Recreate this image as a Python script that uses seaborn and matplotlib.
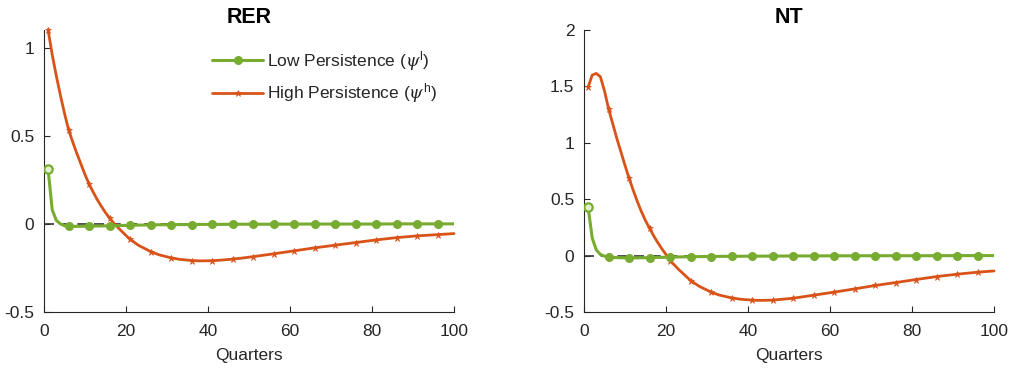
import numpy as np
import pandas as pd
import matplotlib
matplotlib.use("Agg")
import matplotlib.pyplot as plt
import seaborn as sns

# ---- data ----
quarters = [1, 2, 3, 4, 5, 6, 7, 8, 9, 10, 11, 12, 13, 14, 15, 16, 17, 18, 19, 20,
            21, 23, 26, 28, 31, 33, 36, 38, 41, 43, 46, 48, 51, 56, 61, 66, 71, 76,
            81, 86, 91, 96, 100]

rer_low = [0.31, 0.08, 0.02, 0.0, -0.010, -0.013, -0.014, -0.014, -0.014, -0.013,
           -0.013, -0.012, -0.012, -0.012, -0.011, -0.011, -0.010, -0.010, -0.009, -0.009,
           -0.008, -0.007, -0.006, -0.005, -0.005, -0.004, -0.004, -0.003, -0.003, -0.003,
           -0.002, -0.002, -0.002, -0.002, -0.001, -0.001, -0.001, -0.001, -0.001, 0.0,
           0.0, 0.0, 0.0]
rer_high = [1.10, 0.96, 0.84, 0.73, 0.627, 0.534, 0.465, 0.40, 0.34, 0.28,
            0.225, 0.18, 0.137, 0.099, 0.064, 0.032, 0.005, -0.02, -0.043, -0.066,
            -0.087, -0.121, -0.157, -0.175, -0.193, -0.201, -0.208, -0.210, -0.209, -0.206,
            -0.200, -0.195, -0.186, -0.170, -0.153, -0.136, -0.121, -0.106, -0.091, -0.078,
            -0.068, -0.061, -0.055]

nt_low = [0.43, 0.156, 0.05, 0.01, -0.005, -0.012, -0.016, -0.018, -0.019, -0.020,
          -0.020, -0.020, -0.020, -0.019, -0.019, -0.018, -0.017, -0.016, -0.016, -0.015,
          -0.014, -0.012, -0.010, -0.009, -0.008, -0.007, -0.006, -0.006, -0.005, -0.005,
          -0.004, -0.004, -0.003, -0.003, -0.002, -0.002, -0.001, -0.001, -0.001, -0.001,
          0.0, 0.0, 0.0]
nt_high = [1.493, 1.60, 1.615, 1.585, 1.46, 1.30, 1.17, 1.04, 0.92, 0.80,
           0.684, 0.58, 0.48, 0.39, 0.31, 0.242, 0.175, 0.115, 0.06, 0.01,
           -0.044, -0.12, -0.221, -0.27, -0.324, -0.350, -0.375, -0.386, -0.395, -0.397,
           -0.395, -0.388, -0.378, -0.351, -0.324, -0.295, -0.265, -0.239, -0.212, -0.186,
           -0.165, -0.147, -0.136]

marker_quarters = list(range(1, 100, 5))

titles = ["RER", "NT"]
ylims = [(-0.5, 1.1), (-0.5, 2.0)]
yticks = [[-0.5, 0, 0.5, 1], [-0.5, 0, 0.5, 1, 1.5, 2]]
ytick_labels = [["-0.5", "0", "0.5", "1"], ["-0.5", "0", "0.5", "1", "1.5", "2"]]
xticks = [0, 20, 40, 60, 80, 100]
label_low = r"Low Persistence ($\psi^{\mathrm{l}}$)"
label_high = r"High Persistence ($\psi^{\mathrm{h}}$)"

green = "#77AC30"
orange = "#D95319"

sns.set_theme(style="white")
plt.rcParams["font.family"] = ["Liberation Sans", "DejaVu Sans"]
plt.rcParams["mathtext.fontset"] = "custom"
plt.rcParams["mathtext.rm"] = "Liberation Sans"
plt.rcParams["mathtext.it"] = "DejaVu Serif:italic"

fig = plt.figure(figsize=(10.1, 3.68), dpi=100)
axes = [fig.add_axes([44 / 1010, 56 / 368, 410 / 1010, 282 / 368]),
        fig.add_axes([584 / 1010, 56 / 368, 410 / 1010, 282 / 368])]

series = [(rer_low, rer_high), (nt_low, nt_high)]
for ax, (low, high), title, yl, yt, ytl in zip(axes, series, titles, ylims, yticks, ytick_labels):
    df = pd.DataFrame({"q": quarters, "low": low, "high": high})
    mark_idx = [quarters.index(q) for q in marker_quarters]
    ax.axhline(0, color="#333333", lw=1.2, ls=(0, (6, 4)), zorder=1)
    sns.lineplot(data=df, x="q", y="high", ax=ax, color=orange, lw=2.0,
                 marker="*", markersize=4.5, markeredgewidth=0.5, markeredgecolor=orange,
                 markevery=mark_idx, label=label_high, zorder=3, clip_on=False)
    sns.lineplot(data=df, x="q", y="low", ax=ax, color=green, lw=2.2,
                 marker="o", markersize=6.5, markeredgewidth=0, markevery=mark_idx[1:],
                 label=label_low, zorder=4)
    ax.plot(df["q"].iloc[:1], df["low"].iloc[:1], ls="none", marker="o", markersize=6,
            markerfacecolor="#e3efd2", markeredgecolor=green, markeredgewidth=1.6, zorder=5)
    ax.set_xlim(0, 100)
    ax.set_ylim(*yl)
    ax.set_yticks(yt)
    ax.set_yticklabels(ytl)
    ax.set_xticks(xticks)
    ax.set_xlabel("Quarters", fontsize=12.5, color="#262626", labelpad=6)
    ax.set_ylabel("")
    ax.set_title(title, fontsize=15.5, fontweight="bold", pad=5, color="black")
    for s in ["top", "right"]:
        ax.spines[s].set_visible(False)
    for s in ["left", "bottom"]:
        ax.spines[s].set_color("#262626")
        ax.spines[s].set_linewidth(0.8)
    ax.tick_params(axis="y", direction="in", length=4, width=0.8, colors="#262626",
                   labelsize=12.5, pad=7)
    ax.tick_params(axis="x", direction="in", length=4, width=0.8, colors="#262626",
                   labelsize=12.5, pad=9)
    ax.tick_params(left=True, bottom=True)
    ax.legend().remove()

h, l = axes[0].get_legend_handles_labels()
order = [l.index(label_low), l.index(label_high)]
axes[0].legend([h[i] for i in order], [l[i] for i in order], loc="upper right",
               bbox_to_anchor=(0.985, 0.97), frameon=False, fontsize=12.5,
               handlelength=2.9, handletextpad=0.25, labelspacing=0.5,
               borderaxespad=0.2)

fig.savefig("out.png", dpi=100)
